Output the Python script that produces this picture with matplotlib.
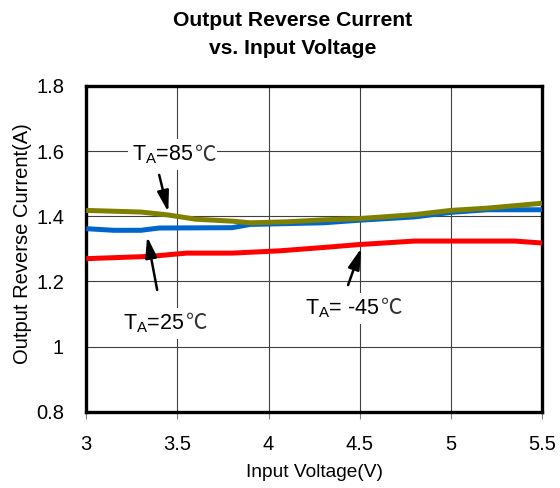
import matplotlib
matplotlib.use("Agg")
import matplotlib.pyplot as plt

plt.rcParams['font.family'] = ['Liberation Sans', 'DejaVu Sans']
plt.rcParams['mathtext.fontset'] = 'custom'
plt.rcParams['mathtext.rm'] = 'Liberation Sans'
plt.rcParams['mathtext.it'] = 'Liberation Sans'

# Measured curves: input voltage (V) vs output reverse current (A)
v_85 = [3.0, 3.3, 3.45, 3.6, 3.8, 3.9, 4.1, 4.3, 4.5, 4.8, 5.0, 5.2, 5.5]
i_85 = [1.418, 1.413, 1.404, 1.391, 1.385, 1.380, 1.383, 1.389, 1.393, 1.405, 1.418, 1.425, 1.440]

v_25 = [3.0, 3.15, 3.3, 3.4, 3.8, 3.9, 4.3, 4.5, 4.8, 5.0, 5.2, 5.5]
i_25 = [1.362, 1.357, 1.357, 1.364, 1.365, 1.375, 1.380, 1.388, 1.398, 1.412, 1.420, 1.420]

v_m45 = [3.0, 3.35, 3.55, 3.8, 4.06, 4.34, 4.49, 4.8, 5.35, 5.5]
i_m45 = [1.270, 1.277, 1.287, 1.287, 1.294, 1.306, 1.313, 1.324, 1.324, 1.318]

x_ticks = [3, 3.5, 4, 4.5, 5, 5.5]
x_tick_labels = ['3', '3.5', '4', '4.5', '5', '5.5']
y_ticks = [0.8, 1.0, 1.2, 1.4, 1.6, 1.8]
y_tick_labels = ['0.8', '1', '1.2', '1.4', '1.6', '1.8']

fig = plt.figure(figsize=(5.6, 4.88), dpi=100)
ax = fig.add_axes([0.154, 0.156, 0.814, 0.668])

ax.plot(v_m45, i_m45, color='#FF0000', lw=3.6, solid_capstyle='butt', zorder=3)
ax.plot(v_25, i_25, color='#0066CC', lw=3.6, solid_capstyle='butt', zorder=3)
ax.plot(v_85, i_85, color='#808000', lw=3.6, solid_capstyle='butt', zorder=4)

ax.set_xlim(3, 5.5)
ax.set_ylim(0.8, 1.8)
ax.set_xticks(x_ticks)
ax.set_xticklabels(x_tick_labels)
ax.set_yticks(y_ticks)
ax.set_yticklabels(y_tick_labels)
ax.tick_params(axis='x', length=5, width=0.8, color='#808080', direction='out',
               labelsize=14.5, pad=12)
ax.tick_params(axis='y', length=0, labelsize=14.5, pad=16)
ax.grid(True, color='#404040', lw=0.8)
ax.set_axisbelow(True)
for s in ax.spines.values():
    s.set_linewidth(2.4)
    s.set_color('black')

ax.set_xlabel('Input Voltage(V)', fontsize=13.8, labelpad=7)
ax.set_ylabel('Output Reverse Current(A)', fontsize=14.5)
ax.yaxis.set_label_coords(-0.118, 0.515)

fig.text(0.522, 0.958, 'Output Reverse Current', ha='center', va='center',
         fontsize=15.2, fontweight='bold')
fig.text(0.522, 0.900, 'vs. Input Voltage', ha='center', va='center',
         fontsize=15.2, fontweight='bold')


def temp_label(x, y, main):
    """Draw 'T_A=...' with a trailing degree-Celsius sign on a white patch."""
    t = ax.text(x, y, r'T$_\mathrm{A}$' + main, fontsize=15.5, ha='left',
                va='baseline', zorder=5,
                bbox=dict(facecolor='white', edgecolor='none', pad=3))
    ax.annotate('℃', xy=(1, y), xycoords=(t, 'data'), xytext=(0.6, 0),
                textcoords='offset points', fontsize=15.5, ha='left',
                va='baseline', family=['Noto Sans CJK SC', 'DejaVu Sans'],
                color='#333333', zorder=5.5,
                bbox=dict(facecolor='white', edgecolor='none', pad=0.5))


arrow = dict(arrowstyle='-|>,head_length=0.9,head_width=0.25', color='black',
             lw=1.8, mutation_scale=14, shrinkA=0, shrinkB=0)

temp_label(3.252, 1.571, '=85')
ax.annotate('', xy=(3.45, 1.413), xytext=(3.40, 1.527), arrowprops=arrow, zorder=6)

temp_label(3.203, 1.054, '=25')
ax.annotate('', xy=(3.334, 1.338), xytext=(3.389, 1.174), arrowprops=arrow, zorder=6)

temp_label(4.20, 1.100, '= -45')
ax.annotate('', xy=(4.508, 1.302), xytext=(4.436, 1.189), arrowprops=arrow, zorder=6)

fig.savefig('out.png', dpi=100)
